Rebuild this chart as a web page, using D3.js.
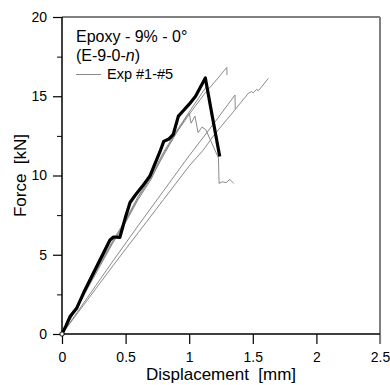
<!DOCTYPE html>
<html>
<head>
<meta charset="utf-8">
<script src="https://cdn.jsdelivr.net/npm/d3@7"></script>
<style>
  body { margin: 0; background: #fff; }
  svg { display: block; font-family: "Liberation Sans", Arial, sans-serif; }
  text { white-space: pre; }
</style>
</head>
<body>
<svg id="chart" width="390" height="385"></svg>
<script>
// displacement [mm], force [kN]
const blackCurve = [
  [0, 0], [0.03, 0.5], [0.063, 1.1], [0.115, 1.62], [0.17, 2.6], [0.25, 3.9],
  [0.325, 5.1], [0.377, 5.93], [0.405, 6.12], [0.455, 6.1], [0.5, 7.4],
  [0.535, 8.3], [0.58, 8.8], [0.63, 9.3], [0.69, 9.95], [0.77, 11.5],
  [0.8, 12.15], [0.84, 12.3], [0.875, 12.6], [0.915, 13.75], [0.955, 14.1],
  [1.0, 14.5], [1.05, 15.0], [1.127, 16.15], [1.18, 13.8], [1.24, 11.2]
]

const exp1 = [
  [0, 0], [0.05, 0.75], [0.1, 1.45], [0.2, 2.95], [0.3, 4.4], [0.4, 5.8],
  [0.5, 7.1], [0.6, 8.6], [0.7, 9.85], [0.8, 11.3], [0.9, 12.7],
  [0.98, 13.75], [1.0, 13.95], [1.015, 13.3], [1.045, 13.75], [1.07, 12.7],
  [1.1, 13.05], [1.13, 12.9], [1.23, 11.1], [1.235, 9.5], [1.26, 9.6],
  [1.29, 9.55], [1.32, 9.75], [1.35, 9.5]
]
const exp2 = [
  [0, 0], [0.1, 1.4], [0.2, 2.85], [0.3, 4.3], [0.4, 5.75], [0.5, 7.05],
  [0.6, 8.5], [0.7, 9.75], [0.8, 11.4], [0.9, 12.7], [1.0, 13.85],
  [1.05, 14.4], [1.12, 15.15], [1.2, 15.9], [1.296, 16.82], [1.297, 16.34]
]
const exp3 = [
  [0, 0], [0.1, 1.5], [0.2, 3.0], [0.3, 4.5], [0.4, 5.9], [0.5, 7.2],
  [0.6, 8.7], [0.7, 9.95], [0.8, 11.5], [0.9, 12.8], [1.0, 14.0],
  [1.1, 15.2], [1.14, 15.65], [1.17, 14.2]
]
const exp4 = [
  [0, 0], [0.2, 2.3], [0.4, 4.6], [0.6, 6.85], [0.8, 9.05], [1.0, 11.25],
  [1.2, 13.35], [1.36, 15.08], [1.362, 14.2]
]
const exp5 = [
  [0, 0], [0.2, 2.15], [0.4, 4.3], [0.6, 6.4], [0.8, 8.5], [1.0, 10.6],
  [1.11, 11.6], [1.2, 12.6], [1.36, 14.15], [1.465, 15.19], [1.491, 15.29],
  [1.504, 15.22], [1.531, 15.44], [1.543, 15.35], [1.57, 15.6], [1.622, 16.13]
]
const greyCurves = [exp1, exp2, exp3, exp4, exp5]

const xTicks = [0, 0.5, 1, 1.5, 2, 2.5]
const yTicks = [0, 5, 10, 15, 20]
const yMinorTicks = [2.5, 7.5, 12.5, 17.5]

const titleLine = "Epoxy - 9% - 0°"
const legendLabel = "Exp #1-#5"

const svg = d3.select("#chart")
const margin = { top: 17, right: 10, bottom: 51, left: 62 }
const width = 390, height = 385
const innerWidth = width - margin.left - margin.right
const innerHeight = height - margin.top - margin.bottom

const x = d3.scaleLinear().domain([0, 2.5]).range([0, innerWidth])
const y = d3.scaleLinear().domain([0, 20]).range([innerHeight, 0])

const g = svg.append("g").attr("transform", `translate(${margin.left},${margin.top})`)

// frame: top and right in grey
g.append("line").attr("x1", 0).attr("x2", innerWidth).attr("y1", 0).attr("y2", 0)
  .attr("stroke", "#808080").attr("stroke-width", 2)
g.append("line").attr("x1", innerWidth).attr("x2", innerWidth).attr("y1", 0).attr("y2", innerHeight + 10)
  .attr("stroke", "#808080").attr("stroke-width", 2)

const xAxis = g.append("g")
  .attr("transform", `translate(0,${innerHeight})`)
  .call(d3.axisBottom(x).tickValues(xTicks).tickSize(10).tickPadding(8).tickFormat(d3.format("")))
const yAxis = g.append("g")
  .call(d3.axisLeft(y).tickValues(yTicks).tickSize(9).tickPadding(6))
g.append("g")
  .call(d3.axisLeft(y).tickValues(yMinorTicks).tickSize(5).tickFormat(""))
  .call((a) => a.select(".domain").remove())

for (const ax of [xAxis, yAxis]) {
  ax.select(".domain").attr("stroke", "#000").attr("stroke-width", 1.5)
  ax.selectAll(".tick line").attr("stroke", "#000").attr("stroke-width", 1.2)
  ax.selectAll(".tick text").attr("font-size", 14).attr("fill", "#000")
    .attr("font-family", "Liberation Sans, Arial, sans-serif")
}
xAxis.select(".domain").attr("d", `M0,0H${innerWidth}`)
yAxis.select(".domain").attr("d", `M0,${innerHeight}V0`)
xAxis.selectAll(".tick").filter((d) => d === 2.5).select("line").attr("stroke", "#808080")

const line = d3.line().x((d) => x(d[0])).y((d) => y(d[1]))

g.selectAll(".exp")
  .data(greyCurves)
  .join("path")
  .attr("class", "exp")
  .attr("fill", "none")
  .attr("stroke", "#8a8a8a")
  .attr("stroke-width", 1)
  .attr("d", line)

g.append("path")
  .datum(blackCurve)
  .attr("fill", "none")
  .attr("stroke", "#000")
  .attr("stroke-width", 3.2)
  .attr("stroke-linejoin", "round")
  .attr("d", line)

g.append("circle")
  .attr("cx", x(0)).attr("cy", y(0)).attr("r", 2.2)
  .attr("fill", "#fff").attr("stroke", "#000").attr("stroke-width", 1)

// title and legend
const tx = 14
g.append("text").attr("x", tx).attr("y", 25).attr("font-size", 16).text(titleLine)
const sub = g.append("text").attr("x", tx).attr("y", 44).attr("font-size", 16)
sub.append("tspan").text("(E-9-0-")
sub.append("tspan").attr("font-style", "italic").text("n")
sub.append("tspan").text(")")

g.append("line").attr("x1", tx).attr("x2", tx + 25).attr("y1", 57.5).attr("y2", 57.5)
  .attr("stroke", "#8a8a8a").attr("stroke-width", 1)
g.append("text").attr("x", tx + 31).attr("y", 62).attr("font-size", 14.5).text(legendLabel)

// axis titles
g.append("text")
  .attr("x", innerWidth / 2).attr("y", innerHeight + 46)
  .attr("text-anchor", "middle").attr("font-size", 17)
  .text("Displacement  [mm]")
g.append("text")
  .attr("transform", "rotate(-90)")
  .attr("x", -innerHeight / 2).attr("y", -36)
  .attr("text-anchor", "middle").attr("font-size", 17)
  .text("Force  [kN]")
</script>
</body>
</html>
